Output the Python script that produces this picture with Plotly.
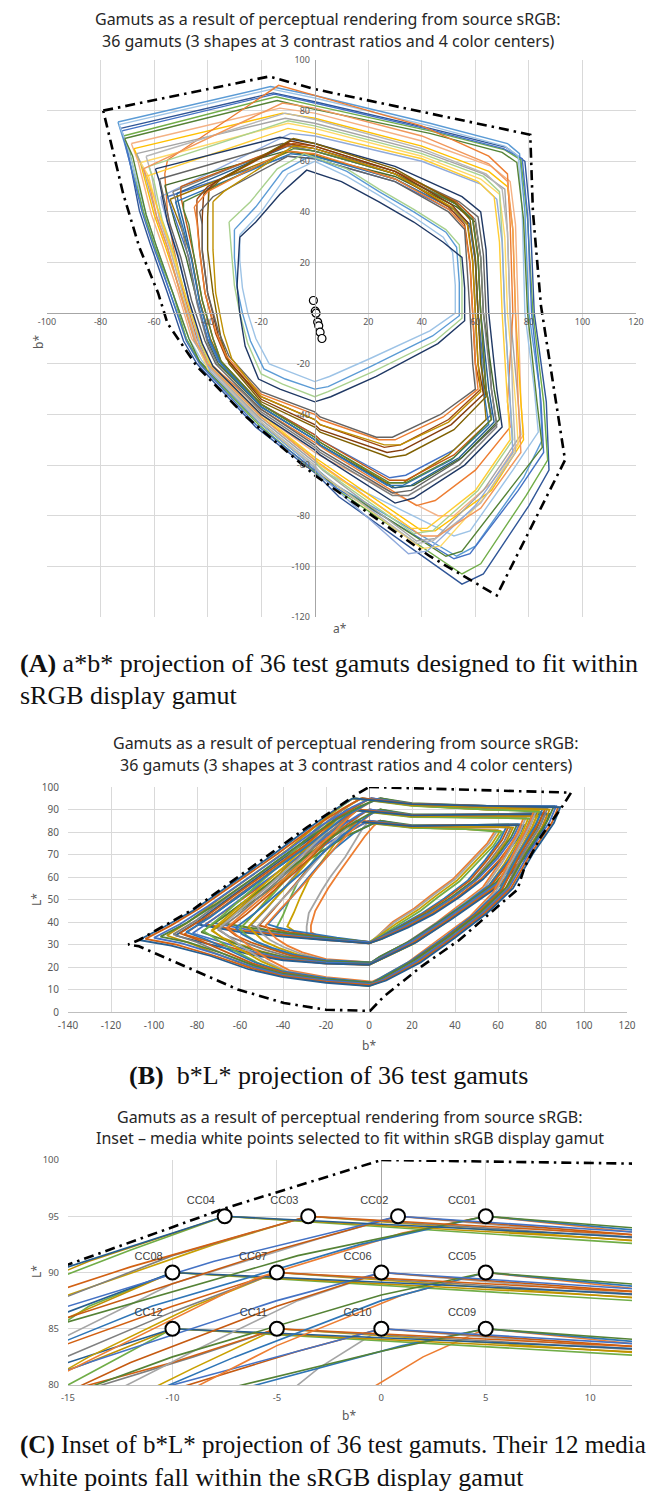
import plotly.graph_objects as go

W, H = 656, 1501

# ---------------- Panel A: a*b* projection (a*, b*) ----------------
AB01 = [(-72.5,73),(-15.5,87),(0,83.5),(43,73),(71.5,65.5),(78.5,60),(80.5,38),(82,0),(86.5,-35),(87.5,-62),(80,-76),(63,-103),(55,-107),(9,-72.5),(0.6,-63.5),(-22,-45),(-44,-20),(-49,-11),(-55,8),(-61.5,27.5),(-65.5,40.5),(-70,65),(-72.5,73)]
AB02 = [(-73.5,75.5),(-16.5,89.5),(0,86),(43,75),(72,67),(76.5,63),(78.5,40),(80,0),(84,-30),(85,-50),(78,-65),(60,-92),(53,-96),(8,-68),(0,-61),(-21,-43),(-43,-19),(-48,-10),(-54,8),(-60,27),(-64,40),(-71,67),(-73.5,75.5)]
AB03 = [(-71.5,70),(-14.5,85.5),(0,82),(43,72),(71,64.5),(77,60.5),(79.5,37),(81.5,0),(85.5,-35),(87,-58),(79,-72),(62,-99),(55,-103),(10,-71),(0,-62.5),(-21,-44),(-43,-19.5),(-48,-10),(-53,8),(-60,27),(-64,40),(-69,63),(-71.5,70)]
AB04 = [(-72,72),(-15,86.5),(0,83),(43,72.5),(70.5,65),(77.5,61),(79.5,39),(81,0),(84.5,-35),(85.5,-55),(76,-70),(58,-95),(52,-97),(8,-69),(0,-62),(-22,-44),(-43,-20),(-48,-11),(-54,8),(-60.5,27),(-64.5,40),(-70,64),(-72,72)]
AB05 = [(-73,74.5),(-16,88.5),(0,85),(43,74),(71,66),(76,62),(77.5,40),(78.5,0),(82,-30),(83.5,-47),(74,-62),(58,-86),(52,-88),(6,-64),(0,-59),(-20,-42),(-42,-19),(-47,-10),(-53,8),(-59,26),(-63,39),(-70,66),(-73,74.5)]
AB06 = [(-71,69),(-14,84),(0,80.5),(43,71),(70,63.5),(75.5,59.5),(78,37),(79.5,0),(83,-35),(85,-53),(74,-68),(55,-94),(49,-96),(5,-66),(0,-61),(-21,-43),(-43,-19),(-47,-10),(-53,8),(-59,26),(-63,39),(-68,62),(-71,69)]
AB07 = [(-68.5,67),(-13,81),(0,79),(40,68),(66,58),(73,52),(75,35),(76,0),(77,-35),(78,-48),(66,-67),(52,-80),(46,-80),(5,-58),(0,-55),(-20,-40),(-40,-19),(-46,-10),(-51,8),(-57,27),(-61,39),(-66,60),(-68.5,67)]
AB08 = [(-67.5,65),(-12,79),(0,77),(40,66),(65,56),(72,50),(74,33),(75,0),(77,-35),(78,-50),(66,-70),(45,-86),(40,-86),(4,-60),(0,-57),(-20,-41),(-40,-20),(-45,-10),(-50,8),(-56,27),(-60,39),(-65,59),(-67.5,65)]
AB09 = [(-66.5,63),(-11,77),(0,75),(40,64),(63,55),(71,49),(72,32),(73,0),(76,-35),(77,-48),(63,-70),(45,-89),(38,-90),(3,-62),(0,-59),(-20,-42),(-40,-21),(-45,-11),(-50,7),(-55,26),(-59,38),(-64,57),(-66.5,63)]
AB10 = [(-65,59.5),(-10,75),(0,73),(40,62),(62,53),(69,47),(71,30),(72,0),(75,-35),(76,-52),(64,-72),(47,-92),(40,-93),(3,-64),(0,-61),(-20,-43),(-40,-22),(-44,-12),(-49,7),(-54,26),(-58,38),(-62,54),(-65,59.5)]
AB11 = [(-55,60.5),(-13.5,90),(0,86),(40,74),(65,62),(72,55),(73,35),(74,0),(72,-35),(73,-45),(60,-62),(45,-74),(38,-76),(4,-54),(0,-51),(-20,-38),(-40,-19),(-44,-10),(-49,8),(-53,27),(-55,40),(-56,55),(-55,60.5)]
AB12 = [(-63,62),(-11,79),(0,76.5),(40,65),(64,55),(70,49),(72,32),(73,0),(74,-35),(75,-55),(62,-75),(44,-90),(38,-91),(2,-63),(0,-60),(-20,-43),(-39,-22),(-44,-12),(-49,6),(-54,25),(-58,37),(-61,55),(-63,62)]
AB13 = [(-62,58),(-10,76),(0,74),(40,63),(63,54),(69,48),(70,30),(71,0),(73,-35),(74,-50),(61,-70),(44,-86),(37,-87),(2,-61),(0,-58),(-20,-41),(-39,-21),(-43,-11),(-48,6),(-53,25),(-57,37),(-60,52),(-62,58)]
AB14 = [(-57.5,46),(-9,71),(0,70),(40,60),(62,51),(68,45),(70,28),(71,0),(73,-35),(74,-55),(60,-76),(42,-94),(35,-95),(2,-64),(0,-61),(-20,-44),(-39,-23),(-43,-13),(-47,5),(-51,23),(-55,36),(-57,43),(-57.5,46)]
AB15 = [(-64,57),(-12,83),(0,81),(40,70),(65,59),(72,52),(74,33),(75,0),(76,-35),(77,-55),(62,-77),(46,-88),(40,-88),(4,-61),(0,-58),(-20,-41),(-40,-20),(-45,-10),(-50,7),(-55,26),(-59,38),(-62,52),(-64,57)]
AB16 = [(-63,54),(-10,73),(0,71),(40,61),(61,52),(67,46),(69,28),(70,0),(72,-35),(73,-50),(60,-70),(42,-85),(36,-85),(2,-60),(0,-57),(-20,-40),(-39,-20),(-43,-10),(-48,6),(-53,24),(-57,36),(-61,49),(-63,54)]
AB17 = [(-59.5,57),(-13,69.5),(0,67),(30,58),(55,46),(62,40),(64,25),(65,0),(68,-30),(70,-45),(56,-60),(37,-73),(30,-75),(2,-56),(0,-54),(-20,-40),(-38,-21),(-42,-12),(-47,5),(-51,22),(-55,36),(-58,52),(-59.5,57)]
AB18 = [(-58,53),(-12,67),(0,65),(30,56),(54,44),(61,38),(63,23),(64,0),(66,-30),(68,-44),(54,-58),(36,-70),(29,-71),(2,-54),(0,-52),(-20,-38),(-37,-20),(-41,-11),(-46,5),(-50,22),(-54,35),(-57,49),(-58,53)]
AB19 = [(-56,50.5),(-11,64),(0,62),(30,54),(53,42),(60,36),(62,22),(63,0),(67,-30),(69,-42),(55,-57),(37,-68),(30,-69),(2,-52),(0,-50),(-20,-37),(-36,-20),(-40,-11),(-44,5),(-48,22),(-52,35),(-55,47),(-56,50.5)]
AB20 = [(-55,46),(-10,62),(0,61),(30,52),(52,40),(58,34),(60,20),(61,0),(64,-30),(66,-40),(52,-54),(34,-64),(28,-65),(2,-50),(0,-48),(-20,-36),(-36,-19),(-40,-10),(-44,5),(-47,22),(-51,34),(-54,43),(-55,46)]
AB21 = [(-51.5,47.3),(-10,66),(0,64),(30,55),(53,43),(59,37),(61,22),(62,0),(65,-30),(67,-43),(54,-57),(36,-68),(29,-69),(2,-52),(0,-50),(-20,-37),(-35,-20),(-39,-11),(-43,5),(-46,22),(-49,36),(-51,44),(-51.5,47.3)]
AB22 = [(-54,45),(-9,64),(0,62.5),(30,53),(52,41),(58,35),(60,21),(61,0),(63,-30),(64,-42),(50,-56),(33,-67),(27,-67),(2,-51),(0,-49),(-20,-36),(-35,-19),(-39,-10),(-43,5),(-46,22),(-50,34),(-53,42),(-54,45)]
AB23 = [(-53,48),(-11,66),(0,64),(30,55),(54,43),(60,37),(62,22),(63,0),(66,-30),(68,-45),(54,-60),(35,-72),(29,-72),(2,-55),(0,-53),(-20,-39),(-36,-21),(-40,-12),(-44,4),(-47,21),(-50,35),(-52,45),(-53,48)]
AB24 = [(-50,50),(-8,67),(0,66),(30,56),(53,44),(59,38),(61,23),(62,0),(64,-30),(66,-42),(52,-56),(34,-66),(28,-66),(2,-50),(0,-48),(-20,-36),(-35,-19),(-38,-10),(-42,5),(-45,22),(-48,36),(-50,46),(-50,50)]
AB25 = [(-52,44),(-9,63),(0,62),(30,53),(52,41),(58,35),(60,21),(61,0),(63,-30),(65,-44),(51,-58),(33,-68),(27,-68),(2,-52),(0,-50),(-20,-37),(-35,-20),(-39,-11),(-43,4),(-46,21),(-49,33),(-51,41),(-52,44)]
AB26 = [(-49,44),(-8,65),(0,64),(30,55),(53,43),(59,37),(61,22),(62,0),(64,-30),(66,-42),(52,-57),(34,-67),(28,-67),(2,-51),(0,-49),(-20,-36),(-35,-19),(-38,-10),(-42,5),(-45,22),(-47,35),(-49,41),(-49,44)]
AB27 = [(-44,45),(-40,50),(-10,67),(0,65),(30,55),(50,42),(56,35),(58,20),(59,0),(60,-20),(62,-30),(50,-42),(32,-52),(26,-53),(2,-44),(0,-42),(-20,-33),(-33,-18),(-37,-8),(-41,8),(-43,25),(-44,38),(-44,45)]
AB28 = [(-41.5,47),(-37,52),(-9,68),(0,66),(30,56),(51,43),(57,36),(59,21),(60,0),(61,-20),(63,-32),(51,-44),(33,-54),(27,-55),(2,-46),(0,-44),(-20,-34),(-32,-19),(-36,-9),(-40,8),(-42,25),(-42,38),(-41.5,47)]
AB29 = [(-39.5,48.5),(-35,53),(-8,69),(0,67),(30,57),(52,44),(58,37),(60,22),(61,0),(62,-20),(64,-33),(52,-46),(34,-56),(28,-57),(2,-47),(0,-45),(-20,-35),(-32,-20),(-35,-10),(-38,8),(-40,25),(-40,38),(-39.5,48.5)]
AB30 = [(-45,42),(-40,48),(-11,64),(0,63),(30,53),(50,41),(56,34),(58,19),(59,0),(60,-20),(61,-30),(48,-41),(30,-50),(24,-50),(2,-42),(0,-40),(-20,-32),(-33,-17),(-37,-7),(-41,8),(-43,24),(-44,36),(-45,42)]
AB31 = [(-43,40),(-38,46),(-10,62),(0,61),(30,52),(50,40),(56,33),(57,18),(58,0),(59,-20),(60,-30),(47,-40),(29,-49),(23,-49),(2,-41),(0,-39),(-20,-31),(-32,-17),(-36,-7),(-40,8),(-42,24),(-42,35),(-43,40)]
AB32 = [(-38,44),(-34,48),(-8,66),(0,65),(30,55),(51,42),(57,35),(59,20),(60,0),(61,-20),(62,-31),(50,-43),(32,-52),(26,-52),(2,-44),(0,-42),(-20,-33),(-31,-18),(-34,-8),(-37,8),(-38,25),(-38,36),(-38,44)]
AB33 = [(-28,31),(-20,40),(-10,55),(0,60),(12,54),(24,46.5),(37,38),(48,30),(51.5,24),(52.5,11),(52.5,0),(43,-7),(20.5,-18),(5.5,-25),(0,-27),(-10,-23),(-17,-20),(-22,-10),(-25,0),(-27,10),(-28,21),(-28,31)]
AB34 = [(-30,33),(-22,42),(-12,56),(-2,62),(12,56),(24,48),(37,40),(49,32),(53,26),(54,12),(54,-1),(44,-9),(21,-21),(5,-29),(0,-30),(-11,-26),(-19,-22),(-24,-11),(-27,0),(-29,10),(-30,22),(-30,33)]
AB35 = [(-32,36),(-24,44),(-14,57),(-4,63),(12,57),(24,49),(37,41),(49,33),(54,27),(55,13),(55,-2),(45,-11),(22,-23),(5,-31),(0,-33),(-12,-28),(-20,-24),(-25,-12),(-28,0),(-30,11),(-31,23),(-32,36)]
AB36 = [(-28,30),(-22,36),(-13,47),(-3,56.5),(10,52),(24,44),(37,36),(48,28),(55,22),(56,10),(56,-3),(46,-12),(23,-25),(6,-33),(0,-35),(-13,-30),(-21,-26),(-26,-13),(-28,0),(-29,11),(-28.5,21),(-28,30)]

SRGB_AB = [(-79,80),(-17,93.5),(0,88.5),(80.5,70.5),(81.5,40),(84.5,3),(93.5,-58),(68,-111.5),(43,-96),(0,-64),(-25.5,-41),(-44,-21),(-55,-4),(-58.5,8),(-65.5,26),(-71.5,47),(-79,80)]

# media white points in a*b*
WP_A = [-0.5, 0.2, 0.5, 1.1, 1.5, 2.0, 2.7]
WP_B = [5.0, 0.8, 0.0, -3.5, -5.0, -7.5, -10.0]

# ---------------- Panel B / C: b*L* projection (b*, L*) ----------------
BL_CC01_A = [(5,95),(20,92.8),(55,91.6),(86,91.5),(83,85),(73,70.5),(64,55.5),(52,44.5),(37,33.5),(21,23),(6,15),(1.5,13),(-20,14.5),(-40,17),(-53,20.5),(-68,26),(-84,31),(-97,33.5),(-85,39.5),(-72,47.5),(-54,59.5),(-36,72),(-18,84),(-4,91.5),(5,95)]
BL_CC01_B = [(5,95),(20,92.4),(55,91),(81,91),(78,84),(69,69.5),(61,54.5),(49,43.5),(35,33),(19,22.5),(5,15),(1.5,13),(-20,15),(-40,18),(-53,22),(-64,27),(-75,32),(-85,35.5),(-74,42),(-60,52),(-43,64),(-27,75),(-11,87),(-1,92.5),(5,95)]
BL_CC01_C = [(5,95),(20,92),(55,90),(77,90),(74,83),(66,68.5),(58,53.5),(47,42.5),(33,32.5),(18,22),(5,15),(1.5,13.5),(-20,15.5),(-37,18.5),(-47,23.5),(-56,29.5),(-62,34.5),(-66,37.5),(-57,45),(-44,55.5),(-31,66.5),(-18,78.5),(-6,89.5),(1,93.5),(5,95)]
BL_CC02_A = [(0.8,95),(20,92.6),(55,91.6),(87,91.5),(84,84.5),(74,70),(65,55),(53,44),(38,33),(22,22.5),(7,14.5),(1,12.5),(-20,14),(-40,16.5),(-54,20),(-70,25.5),(-87,30.5),(-100,33),(-88,39),(-75,47),(-57,59),(-39,71),(-22,83),(-8,91),(0.8,95)]
BL_CC02_B = [(0.8,95),(20,92.2),(55,91),(82,90.5),(79,84),(70,69.5),(62,54.5),(50,43.5),(36,33),(20,22.5),(6,14.5),(1,12.5),(-20,14.5),(-40,17.5),(-54,21.5),(-66,26.5),(-78,31.5),(-88,35),(-77,41.5),(-63,51.5),(-46,63),(-30,74),(-15,86),(-5,92),(0.8,95)]
BL_CC02_C = [(0.8,95),(20,91.8),(55,90),(78,90),(75,83),(67,68.5),(59,53.5),(48,42.5),(34,32.5),(19,22),(6,14.5),(1,13),(-20,15),(-38,18),(-49,23),(-59,29),(-66,34),(-70,37),(-61,44.5),(-48,55),(-35,66),(-22,78),(-10,89),(-3,93),(0.8,95)]
BL_CC03_A = [(-3.5,95),(20,92.5),(55,91.6),(88,91),(85,84),(75,70),(66,55),(54,44),(39,33),(23,22),(7,14),(0,12),(-20,13.5),(-40,16),(-55,19.5),(-72,25),(-90,30),(-104,32.5),(-92,38.5),(-79,46),(-61,58),(-43,70),(-26,82),(-12,90.5),(-3.5,95)]
BL_CC03_B = [(-3.5,95),(20,92.1),(55,91),(83,90.5),(80,83.5),(71,69),(63,54),(51,43),(37,32.5),(21,22),(6,14),(0,12),(-20,14),(-40,17),(-55,21),(-68,26),(-80,31),(-91,34.5),(-80,41),(-66,51),(-50,62),(-34,73),(-19,85),(-10,91.5),(-3.5,95)]
BL_CC03_C = [(-3.5,95),(20,91.7),(55,90),(79,89.5),(76,82.5),(68,68),(60,53),(49,42),(35,32),(20,21.5),(6,14),(0,12.5),(-20,14.5),(-38,17.5),(-50,22.5),(-61,28.5),(-69,33.5),(-73,36.5),(-64,44),(-52,54),(-39,65),(-26,77),(-15,88),(-8,92.5),(-3.5,95)]
BL_CC04_A = [(-7.5,95),(20,92.4),(55,91.6),(89,91),(86,84),(76,70),(67,55),(55,44),(40,33),(24,22),(8,14),(0,11.5),(-20,13),(-40,15.5),(-56,19),(-74,25),(-92,29.5),(-107,32),(-95,38),(-82,45),(-64,57),(-46,69),(-29,81),(-15,90.5),(-7.5,95)]
BL_CC04_B = [(-7.5,95),(20,92),(55,91),(84,90),(81,83),(72,69),(64,54),(52,43),(38,32.5),(22,22),(7,14),(0,11.5),(-20,13.5),(-40,16.5),(-56,20.5),(-70,25.5),(-83,30.5),(-94,34),(-84,40),(-70,50),(-54,61),(-38,72),(-23,84),(-14,91),(-7.5,95)]
BL_CC04_C = [(-7.5,95),(20,91.6),(55,90),(80,89),(77,82),(69,68),(61,53),(50,42),(36,32),(21,21.5),(7,14),(0,12),(-20,14),(-38,17),(-52,22),(-64,28),(-72,33),(-77,36),(-68,43),(-56,53),(-43,64),(-30,76),(-19,87),(-12,92),(-7.5,95)]
BL_CC05_A = [(5,90),(20,87.8),(55,87.8),(81,88.5),(78,81.5),(69,68.5),(59,57.5),(47,49.5),(35,41.5),(19,31.5),(5,24.5),(1,22),(-20,22.5),(-40,24.5),(-52,27),(-61,30),(-70,33),(-78,35.5),(-68,42),(-54,52),(-38,63),(-24,73),(-10,82.5),(0,88),(5,90)]
BL_CC05_B = [(5,90),(20,87.4),(55,87.2),(76,87.5),(73,80.5),(65,67.5),(56,56.5),(45,48.5),(33,40.5),(18,31),(5,24.5),(1,22),(-20,23),(-35,25.5),(-45,28.5),(-53,31.5),(-59,34.5),(-62,37.5),(-53,44),(-42,53),(-30,63),(-19,73),(-7,82.5),(0,87.5),(5,90)]
BL_CC05_C = [(5,90),(20,87),(55,86.4),(72,86.5),(69,79.5),(61,66.5),(53,55.5),(42,47.5),(31,39.5),(17,30.5),(5,24.5),(1,22),(-20,23.5),(-31,26.5),(-38,29.5),(-43,32.5),(-46,35.5),(-48,38.5),(-41,46),(-32,55),(-23,65),(-14,75),(-5,83.5),(1,88),(5,90)]
BL_CC06_A = [(0,90),(20,87.6),(55,87.8),(82,88.5),(79,81.5),(70,68.5),(60,57.5),(48,49.5),(36,41.5),(20,31.5),(6,24.5),(0.5,21.5),(-20,22),(-40,24),(-53,26.5),(-63,29.5),(-73,32.5),(-82,35),(-72,41.5),(-58,51.5),(-42,62.5),(-28,72.5),(-14,82),(-5,87.5),(0,90)]
BL_CC06_B = [(0,90),(20,87.2),(55,87.2),(77,87.5),(74,80.5),(66,67.5),(57,56.5),(46,48.5),(34,40.5),(19,31),(6,24.5),(0.5,21.5),(-20,22.5),(-36,25),(-46,28),(-55,31),(-62,34),(-66,37),(-57,43.5),(-46,52.5),(-34,62.5),(-23,72.5),(-12,82),(-5,87),(0,90)]
BL_CC06_C = [(0,90),(20,86.8),(55,86.4),(73,86.5),(70,79.5),(62,66.5),(54,55.5),(43,47.5),(32,39.5),(18,30.5),(6,24.5),(0.5,21.5),(-20,23),(-32,26),(-40,29),(-46,32),(-50,35),(-52,38),(-45,45.5),(-36,54.5),(-27,64.5),(-18,74.5),(-9,83),(-4,87.5),(0,90)]
BL_CC07_A = [(-5,90),(20,87.5),(55,87.8),(83,88),(80,81),(71,68),(61,57),(49,49),(37,41),(21,31),(6,24),(0,21),(-20,21.5),(-40,23.5),(-54,26),(-65,29),(-76,32),(-86,34.5),(-76,41),(-62,51),(-46,62),(-32,72),(-19,81),(-10,87),(-5,90)]
BL_CC07_B = [(-5,90),(20,87.1),(55,87.2),(78,87),(75,80),(67,67),(58,56),(47,48),(35,40),(20,30.5),(6,24),(0,21),(-20,22),(-37,24.5),(-48,27.5),(-57,30.5),(-65,33.5),(-70,36.5),(-61,43),(-50,52),(-38,62),(-27,72),(-17,81),(-10,86.5),(-5,90)]
BL_CC07_C = [(-5,90),(20,86.7),(55,86.4),(74,86),(71,79),(63,66),(55,55),(44,47),(33,39),(19,30),(6,24),(0,21),(-20,22.5),(-33,25.5),(-42,28.5),(-49,31.5),(-53,35),(-56,38),(-49,45),(-40,54),(-31,64),(-22,74),(-14,82.5),(-9,87),(-5,90)]
BL_CC08_A = [(-10,90),(20,87.4),(55,87.8),(84,88),(81,81),(72,68),(62,57),(50,49),(38,41),(22,31),(7,24),(0,21),(-20,21.5),(-40,23),(-55,25.5),(-68,28.5),(-80,31.5),(-90,34),(-80,40),(-66,50),(-50,61),(-36,71),(-23,80),(-15,86.5),(-10,90)]
BL_CC08_B = [(-10,90),(20,87),(55,87.2),(79,87),(76,80),(68,67),(59,56),(48,48),(36,40),(21,30.5),(7,24),(0,21),(-20,22),(-38,24),(-50,27),(-60,30),(-68,33),(-73,36),(-65,42),(-54,51),(-42,61),(-31,71),(-21,80),(-15,86),(-10,90)]
BL_CC08_C = [(-10,90),(20,86.6),(55,86.4),(75,86),(72,79),(64,66),(56,55),(45,47),(34,39),(20,30),(7,24),(0,21),(-20,22.5),(-35,25),(-45,28),(-52,31),(-57,34),(-60,37),(-53,44),(-44,53),(-35,63),(-26,73),(-18,82),(-14,87),(-10,90)]
BL_CC09_A = [(5,85),(20,83),(50,83.2),(69,83.5),(66,77.5),(59,68.5),(50,59.5),(39,51.5),(27,44),(15,38),(5,33),(1,31),(-20,33),(-38,35),(-52,37),(-61,38.5),(-68,39.5),(-58,46.5),(-46,54.5),(-34,63.5),(-22,71.5),(-10,78.5),(0,83),(5,85)]
BL_CC09_B = [(5,85),(20,82.6),(50,82.4),(64,82.5),(61,76.5),(54,67.5),(46,58.5),(35,50.5),(24,43.5),(13,37.5),(5,33),(1,31),(-15,33),(-26,34.5),(-35,36),(-42,37.5),(-47,39),(-40,46.5),(-32,55.5),(-24,64.5),(-16,72.5),(-7,79.5),(1,83.5),(5,85)]
BL_CC09_C = [(5,85),(20,82.2),(45,81.3),(59,81),(55,75),(47,67),(39,59),(29,52),(21,46),(11,40),(5,34.5),(1,31),(-10,32),(-18,33),(-24,34),(-27,35.5),(-27,38.5),(-25,45),(-19,55),(-14,62),(-8,70),(-2,78),(2,82.5),(5,85)]
BL_CC10_A = [(0,85),(20,82.8),(50,83.2),(70,83.5),(67,77.5),(60,68.5),(51,59.5),(40,51.5),(28,44),(16,38),(5,33),(0.5,31),(-20,32.5),(-40,34.5),(-56,36.5),(-65,38),(-72,39.5),(-62,46),(-50,54),(-38,63),(-26,71),(-14,78),(-5,82.5),(0,85)]
BL_CC10_B = [(0,85),(20,82.4),(50,82.4),(65,82.5),(62,76.5),(55,67.5),(47,58.5),(36,50.5),(25,43.5),(14,37.5),(5,33),(0.5,31),(-15,32.5),(-27,34),(-37,35.5),(-45,37),(-51,38.5),(-44,46),(-36,55),(-28,64),(-20,72),(-11,79),(-4,83),(0,85)]
BL_CC10_C = [(0,85),(20,82),(45,81.3),(60,81),(56,75),(48,67),(40,59),(30,52),(22,46),(12,40),(5,34.5),(0.5,31),(-10,31.5),(-20,32.5),(-26,33.5),(-29,35),(-29,38),(-28,44),(-22,54),(-18,60),(-11,69),(-6,77),(-3,81.5),(0,85)]
BL_CC11_A = [(-5,85),(20,82.7),(50,83.2),(71,83),(68,77),(61,68),(52,59),(41,51),(29,43.5),(17,37.5),(5,32.5),(0,30.5),(-20,32),(-40,34),(-58,36),(-68,37.5),(-76,39),(-66,45.5),(-54,53.5),(-42,62.5),(-30,70.5),(-19,77.5),(-10,82),(-5,85)]
BL_CC11_B = [(-5,85),(20,82.3),(50,82.4),(66,82),(63,76),(56,67),(48,58),(37,50),(26,43),(15,37),(5,32.5),(0,30.5),(-15,32),(-28,33.5),(-39,35),(-48,36.5),(-55,38.5),(-48,45.5),(-40,54.5),(-32,63.5),(-24,71.5),(-16,78.5),(-9,82.5),(-5,85)]
BL_CC11_C = [(-5,85),(20,81.9),(45,81.3),(61,80.5),(57,74.5),(49,66.5),(41,58.5),(31,51.5),(23,45.5),(13,39.5),(5,34),(0,31),(-10,31.5),(-20,32.5),(-28,33.5),(-34,35.5),(-38,38),(-35,44),(-32,51),(-28,59),(-22,67),(-15,76),(-9,81.5),(-5,85)]
BL_CC12_A = [(-10,85),(20,82.6),(50,83.2),(72,83),(69,77),(62,68),(53,59),(42,51),(30,43.5),(18,37.5),(6,32.5),(0,30.5),(-20,32),(-40,33.5),(-60,35.5),(-72,37.5),(-80,39),(-70,45),(-58,53),(-46,62),(-34,70),(-23,77),(-15,82),(-10,85)]
BL_CC12_B = [(-10,85),(20,82.2),(50,82.4),(67,82),(64,76),(57,67),(49,58),(38,50),(27,43),(16,37),(6,32.5),(0,30.5),(-15,32),(-30,33),(-42,34.5),(-52,36),(-59,38),(-52,45),(-44,54),(-36,63),(-28,71),(-20,78),(-14,82),(-10,85)]
BL_CC12_C = [(-10,85),(20,81.8),(45,81.3),(62,80),(58,74),(50,66),(42,58),(32,51),(24,45),(14,39),(6,34),(0,31),(-10,31.5),(-20,32.5),(-30,33),(-38,35),(-43,37.5),(-40,43),(-37,50),(-33,58),(-27,66),(-20,75),(-14,81),(-10,85)]

SRGB_BL = [(0,100),(94,97.5),(90,91.5),(80,78),(72.5,64.7),(69,54.4),(60,47),(42,32),(24.5,20.3),(7,7),(0.5,0.5),(-20,1),(-39.5,4),(-61,10),(-82,18.8),(-107,29.2),(-112,30),(-107,32),(-82,45.5),(-54,64.7),(-29,82),(-15,90.7),(-7.5,95.7),(0,100)]

CC_LABELS = ["CC01","CC02","CC03","CC04","CC05","CC06","CC07","CC08","CC09","CC10","CC11","CC12"]
CC_B = [5, 0.8, -3.5, -7.5, 5, 0, -5, -10, 5, 0, -5, -10]
CC_L = [95, 95, 95, 95, 90, 90, 90, 90, 85, 85, 85, 85]

AB_GAMUTS = [AB01, AB02, AB03, AB04, AB05, AB06, AB07, AB08, AB09, AB10, AB11, AB12,
             AB13, AB14, AB15, AB16, AB17, AB18, AB19, AB20, AB21, AB22, AB23, AB24,
             AB25, AB26, AB27, AB28, AB29, AB30, AB31, AB32, AB33, AB34, AB35, AB36]
AB_COLORS = ["#2F5597", "#5B9BD5", "#70AD47", "#4472C4", "#9DC3E6", "#548235",
             "#F4B183", "#FFC000", "#A5A5A5", "#FFD966", "#ED7D31", "#B7B7B7",
             "#A9D18E", "#8FAADC", "#F1975A", "#FFCD33",
             "#1F3864", "#636363", "#43682B", "#4472C4", "#255E91", "#997300",
             "#7F7F7F", "#C55A11", "#2E75B6", "#548235",
             "#9E480E", "#843C0C", "#7F6000", "#ED7D31", "#636363", "#BF9000",
             "#9DC3E6", "#5B9BD5", "#A9D18E", "#1F3864"]

BL_GAMUTS = [BL_CC09_C, BL_CC10_C, BL_CC11_C, BL_CC12_C, BL_CC09_B, BL_CC10_B, BL_CC11_B, BL_CC12_B,
             BL_CC09_A, BL_CC10_A, BL_CC11_A, BL_CC12_A,
             BL_CC05_C, BL_CC06_C, BL_CC07_C, BL_CC08_C, BL_CC05_B, BL_CC06_B, BL_CC07_B, BL_CC08_B,
             BL_CC05_A, BL_CC06_A, BL_CC07_A, BL_CC08_A,
             BL_CC01_C, BL_CC02_C, BL_CC03_C, BL_CC04_C, BL_CC01_B, BL_CC02_B, BL_CC03_B, BL_CC04_B,
             BL_CC01_A, BL_CC02_A, BL_CC03_A, BL_CC04_A]
BL_PALETTE = ["#ED7D31", "#A5A5A5", "#C9A000", "#70AD47", "#2E75B6", "#C55A11",
              "#7F7F7F", "#BF9000", "#548235", "#4472C4", "#D26012", "#255E91"]

A_XTICKS = [-100, -80, -60, -40, -20, 20, 40, 60, 80, 100, 120]
A_YTICKS = [-120, -100, -80, -60, -40, -20, 20, 40, 60, 80, 100]
B_XTICKS = [-140, -120, -100, -80, -60, -40, -20, 0, 20, 40, 60, 80, 100, 120]
B_YTICKS = [0, 10, 20, 30, 40, 50, 60, 70, 80, 90, 100]
C_XTICKS = [-15, -10, -5, 0, 5, 10]
C_YTICKS = [80, 85, 90, 95, 100]

fig = go.Figure()

def px_x(p):
    return p / W

def px_y(p):
    return 1 - p / H

# domains (paper)
xA = [px_x(47), px_x(636)];  yA = [px_y(617), px_y(60)]
xB = [px_x(68), px_x(627)];  yB = [px_y(1012), px_y(787)]
xC = [px_x(68), px_x(632)];  yC = [px_y(1385), px_y(1160)]

# ---- Panel A traces
for poly, col in zip(AB_GAMUTS, AB_COLORS):
    a, b = zip(*poly)
    fig.add_trace(go.Scatter(x=a, y=b, mode="lines", line=dict(color=col, width=1.4),
                             xaxis="x", yaxis="y", hoverinfo="skip", showlegend=False))
sa, sb = zip(*SRGB_AB)
fig.add_trace(go.Scatter(x=sa, y=sb, mode="lines",
                         line=dict(color="black", width=2.6, dash="10px,5px,2.5px,5px"),
                         xaxis="x", yaxis="y", hoverinfo="skip", showlegend=False))
fig.add_trace(go.Scatter(x=WP_A, y=WP_B, mode="markers",
                         marker=dict(symbol="circle", size=8, color="white",
                                     line=dict(color="black", width=1.2)),
                         xaxis="x", yaxis="y", hoverinfo="skip", showlegend=False))

# ---- Panel B and C traces (C is an inset of the same data)
for ax_x, ax_y, lw in (("x2", "y2", 1.8), ("x3", "y3", 1.6)):
    for i, poly in enumerate(BL_GAMUTS):
        bb, ll = zip(*poly)
        fig.add_trace(go.Scatter(x=bb, y=ll, mode="lines",
                                 line=dict(color=BL_PALETTE[i % len(BL_PALETTE)], width=lw),
                                 xaxis=ax_x, yaxis=ax_y, hoverinfo="skip", showlegend=False))
    sbb, sll = zip(*SRGB_BL)
    fig.add_trace(go.Scatter(x=sbb, y=sll, mode="lines",
                             line=dict(color="black", width=2.6, dash="10px,5px,2.5px,5px"),
                             xaxis=ax_x, yaxis=ax_y, hoverinfo="skip", showlegend=False))

fig.add_trace(go.Scatter(x=CC_B, y=CC_L, mode="markers+text", text=CC_LABELS,
                         textposition="top left",
                         textfont=dict(family="Liberation Sans, Arial", size=11, color="#404040"),
                         marker=dict(symbol="circle", size=14, color="white",
                                     line=dict(color="black", width=2)),
                         xaxis="x3", yaxis="y3", hoverinfo="skip", showlegend=False,
                         cliponaxis=False))

GRID = "#D9D9D9"
AXL = "#A6A6A6"
TICKF = dict(family="Noto Sans, Open Sans, sans-serif", size=9, color="#595959")

def labels(vals):
    return [str(v) for v in vals]

posA_x = yA[0] + (0 - (-120)) / 220 * (yA[1] - yA[0])
posA_y = xA[0] + (0 - (-100)) / 220 * (xA[1] - xA[0])

fig.update_layout(
    width=W, height=H, margin=dict(l=0, r=0, t=0, b=0, autoexpand=False),
    paper_bgcolor="white", plot_bgcolor="white",
    xaxis=dict(domain=xA, range=[-100, 120], anchor="free", position=posA_x,
               tickvals=A_XTICKS, ticktext=labels(A_XTICKS), automargin=False,
               showgrid=True, gridcolor=GRID, gridwidth=1, zeroline=False,
               showline=True, linecolor=AXL, linewidth=1, ticks="", tickfont=TICKF),
    yaxis=dict(domain=yA, range=[-120, 100], anchor="free", position=posA_y,
               tickvals=A_YTICKS, ticktext=labels(A_YTICKS), automargin=False,
               showgrid=True, gridcolor=GRID, gridwidth=1, zeroline=False,
               showline=True, linecolor=AXL, linewidth=1, ticks="", tickfont=TICKF,
               ticklabelstandoff=3),
    xaxis2=dict(domain=xB, range=[-140, 120], anchor="y2",
                tickvals=B_XTICKS, ticktext=labels(B_XTICKS), automargin=False,
                showgrid=True, gridcolor=GRID, zeroline=True, zerolinecolor=AXL, zerolinewidth=1,
                showline=True, linecolor="#BFBFBF", ticks="", tickfont=dict(TICKF, size=10),
                ticklabelstandoff=4),
    yaxis2=dict(domain=yB, range=[0, 100], anchor="x2",
                tickvals=B_YTICKS, ticktext=labels(B_YTICKS), automargin=False,
                showgrid=True, gridcolor=GRID, zeroline=False, showline=False,
                ticks="", tickfont=dict(TICKF, size=10), ticklabelstandoff=8),
    xaxis3=dict(domain=xC, range=[-15, 12], anchor="y3",
                tickvals=C_XTICKS, ticktext=labels(C_XTICKS), automargin=False,
                showgrid=True, gridcolor=GRID, zeroline=True, zerolinecolor=AXL, zerolinewidth=1,
                showline=True, linecolor="#BFBFBF", ticks="", tickfont=dict(TICKF, size=9.5),
                ticklabelstandoff=4),
    yaxis3=dict(domain=yC, range=[80, 100], anchor="x3",
                tickvals=C_YTICKS, ticktext=labels(C_YTICKS), automargin=False,
                showgrid=True, gridcolor=GRID, zeroline=False, showline=False,
                ticks="", tickfont=dict(TICKF, size=9.5), ticklabelstandoff=8),
)

TITLE_F = dict(family="Noto Sans, Open Sans, sans-serif", size=16, color="#262626")
AXT_F = dict(family="Noto Sans, Open Sans, sans-serif", size=12, color="#595959")
CAP_F = dict(family="Liberation Serif, Times New Roman, serif", size=26, color="#111111")

ann = []
def add_ann(text, x, y, font, xanchor="center", yanchor="middle", textangle=0, align="center"):
    ann.append(dict(text=text, x=px_x(x), y=px_y(y), xref="paper", yref="paper",
                    showarrow=False, font=font, xanchor=xanchor, yanchor=yanchor,
                    textangle=textangle, align=align))

add_ann("Gamuts as a result of perceptual rendering from source sRGB:", 328, 19, TITLE_F)
add_ann("36 gamuts (3 shapes at 3 contrast ratios and 4 color centers)", 328, 41, TITLE_F)
add_ann("a*", 340, 628, AXT_F)
add_ann("b*", 38, 342, AXT_F, textangle=-90)
add_ann("<b>(A)</b> a*b* projection of 36 test gamuts designed to fit within", 18, 663, CAP_F, xanchor="left")
add_ann("sRGB display gamut", 18, 695, CAP_F, xanchor="left")

add_ann("Gamuts as a result of perceptual rendering from source sRGB:", 346, 743, TITLE_F)
add_ann("36 gamuts (3 shapes at 3 contrast ratios and 4 color centers)", 346, 765, TITLE_F)
add_ann("b*", 369, 1045, AXT_F)
add_ann("L*", 36, 900, AXT_F, textangle=-90)
add_ann("<b>(B)</b>  b*L* projection of 36 test gamuts", 328, 1075, CAP_F)

add_ann("Gamuts as a result of perceptual rendering from source sRGB:", 350, 1117, TITLE_F)
add_ann("Inset \u2013 media white points selected to fit within sRGB display gamut", 350, 1138, TITLE_F)
add_ann("b*", 349, 1415, AXT_F)
add_ann("L*", 36, 1272, AXT_F, textangle=-90)
add_ann("<b>(C)</b> Inset of b*L* projection of 36 test gamuts. Their 12 media", 18, 1445,
        dict(CAP_F, size=25), xanchor="left")
add_ann("white points fall within the sRGB display gamut", 18, 1477, CAP_F, xanchor="left")

fig.update_layout(annotations=ann)
fig.write_html("out.html", config={"displayModeBar": False, "staticPlot": True},
               post_script="document.body.style.margin='0';document.body.style.overflow='hidden';")
